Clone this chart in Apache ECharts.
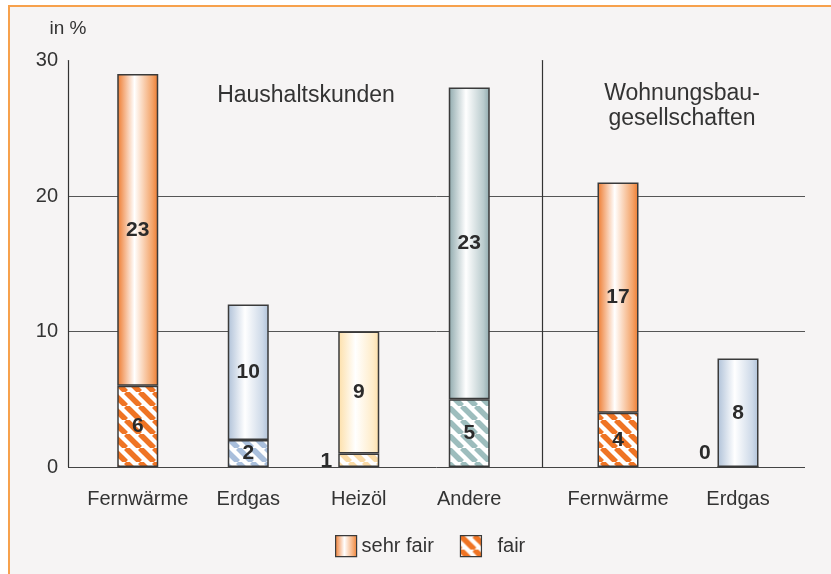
<!DOCTYPE html>
<html>
<head>
<meta charset="utf-8">
<script src="https://cdn.jsdelivr.net/npm/echarts@6/dist/echarts.min.js"></script>
<style>
  body { margin: 0; background: #fff; }
  #frame { position: absolute; left: 8px; top: 5px; width: 823px; height: 569px;
           background: #f6f4f4; border-top: 2px solid #f7a14c; border-left: 2px solid #f7a14c; box-sizing: border-box; }
  #chart { position: absolute; left: 0; top: 0; width: 831px; height: 574px; }
</style>
</head>
<body>
<div id="frame"></div>
<div id="chart"></div>
<script>
// Daten
const categoriesHaushalt = ['Fernwärme', 'Erdgas', 'Heizöl', 'Andere'];
const fairHaushalt = [6, 2, 1, 5];
const sehrFairHaushalt = [23, 10, 9, 23];

const categoriesWohnung = ['Fernwärme', 'Erdgas'];
const fairWohnung = [4, 0];
const sehrFairWohnung = [17, 8];

const yTicks = [0, 10, 20, 30];

// Farben je Energieträger
const colors = {
  'Fernwärme': { base: '#ee7a2e', light: '#f4a56b', stripe: '#ef7424' },
  'Erdgas':    { base: '#afc1d8', light: '#cdd9e8', stripe: '#a9bfdc' },
  'Heizöl':    { base: '#fddfa8', light: '#feecc9', stripe: '#fbdba6' },
  'Andere':    { base: '#8fa9ad', light: '#b9cbcd', stripe: '#9dbdbd' }
};

function gradient(c) {
  return new echarts.graphic.LinearGradient(0, 0, 1, 0, [
    { offset: 0, color: c.base },
    { offset: 0.42, color: '#ffffff' },
    { offset: 0.85, color: c.light },
    { offset: 1, color: c.base }
  ]);
}

function hatch(c) {
  const s = 14;
  const cv = document.createElement('canvas');
  cv.width = s; cv.height = s;
  const ctx = cv.getContext('2d');
  ctx.fillStyle = '#ffffff';
  ctx.fillRect(0, 0, s, s);
  ctx.strokeStyle = c.stripe;
  ctx.lineWidth = 5.5;
  [-s, 0, s].forEach(x0 => {
    ctx.beginPath();
    ctx.moveTo(x0, 0);
    ctx.lineTo(x0 + s, s);
    ctx.stroke();
  });
  return { image: cv, repeat: 'repeat' };
}

const font = 'Liberation Sans';
const labelStyle = {
  show: true, position: 'inside', color: '#2b2b2b',
  fontSize: 21, fontWeight: 'bold', fontFamily: font
};
const barBorder = { borderColor: '#3a3a3a', borderWidth: 1.5 };

function fairData(cats, vals) {
  return vals.map((v, i) => {
    const d = { value: v, itemStyle: Object.assign({ color: hatch(colors[cats[i]]) }, barBorder) };
    if (v <= 1) {
      d.label = { position: 'left', distance: 6, offset: v === 0 ? [0, -14] : [0, 1] };
    }
    return d;
  });
}
function sehrFairData(cats, vals) {
  return vals.map((v, i) => ({
    value: v, itemStyle: Object.assign({ color: gradient(colors[cats[i]]) }, barBorder)
  }));
}

const chart = echarts.init(document.getElementById('chart'));
const catLabel = { fontSize: 20, color: '#333', margin: 22, fontFamily: font, interval: 0, hideOverlap: false };

chart.setOption({
  animation: false,
  textStyle: { fontFamily: font },
  title: [
    { text: 'Haushaltskunden', left: 301, top: 79, textAlign: 'center',
      textStyle: { fontSize: 23, fontWeight: 'normal', color: '#333', fontFamily: font } },
    { text: 'Wohnungsbau-\ngesellschaften', left: 677, top: 76, textAlign: 'center',
      textStyle: { fontSize: 23, fontWeight: 'normal', color: '#333', fontFamily: font, lineHeight: 25 } }
  ],
  legend: {
    data: ['sehr fair', { name: 'fair', textStyle: { padding: [0, 0, 0, 11] } }],
    left: 330, top: 530,
    itemWidth: 21, itemHeight: 21, itemGap: 26,
    icon: 'rect',
    textStyle: { fontSize: 20, color: '#333', fontFamily: font },
    itemStyle: { borderColor: '#3a3a3a', borderWidth: 1.2 }
  },
  grid: [
    { left: 68, right: 26, top: 60.5, bottom: 107 },
    { left: 82.5, width: 442, top: 60.5, bottom: 107 },
    { left: 558, width: 240, top: 60.5, bottom: 107 }
  ],
  xAxis: [
    { gridIndex: 0, type: 'value', show: false },
    { gridIndex: 1, type: 'category', data: categoriesHaushalt,
      axisLine: { show: false }, axisTick: { show: false }, axisLabel: catLabel },
    { gridIndex: 2, type: 'category', data: categoriesWohnung,
      axisLine: { show: false }, axisTick: { show: false }, axisLabel: catLabel }
  ],
  yAxis: [
    { gridIndex: 0, type: 'value', min: yTicks[0], max: yTicks[yTicks.length - 1], interval: 10,
      name: 'in %', nameGap: 22,
      nameTextStyle: { fontSize: 19, color: '#333', fontFamily: font, align: 'center' },
      axisLine: { show: true, lineStyle: { color: '#333', width: 1.2 } },
      axisTick: { show: false },
      axisLabel: { fontSize: 20, color: '#333', margin: 10, fontFamily: font },
      splitLine: { show: true, lineStyle: { color: ['#444', '#555', '#555', 'rgba(0,0,0,0)'], width: 1 } } },
    { gridIndex: 1, type: 'value', min: 0, max: 30, show: false },
    { gridIndex: 2, type: 'value', min: 0, max: 30, offset: 16,
      axisLine: { show: true, lineStyle: { color: '#333', width: 1.2 } },
      axisTick: { show: false }, axisLabel: { show: false }, splitLine: { show: false } }
  ],
  series: [
    { name: 'fair', type: 'bar', xAxisIndex: 1, yAxisIndex: 1, stack: 'h', barWidth: 41,
      itemStyle: Object.assign({ color: hatch(colors['Fernwärme']) }, barBorder),
      label: labelStyle, data: fairData(categoriesHaushalt, fairHaushalt) },
    { name: 'sehr fair', type: 'bar', xAxisIndex: 1, yAxisIndex: 1, stack: 'h', barWidth: 41,
      itemStyle: Object.assign({ color: gradient(colors['Fernwärme']) }, barBorder),
      label: labelStyle, data: sehrFairData(categoriesHaushalt, sehrFairHaushalt) },
    { name: 'fair', type: 'bar', xAxisIndex: 2, yAxisIndex: 2, stack: 'w', barWidth: 41,
      itemStyle: Object.assign({ color: hatch(colors['Fernwärme']) }, barBorder),
      label: labelStyle, data: fairData(categoriesWohnung, fairWohnung) },
    { name: 'sehr fair', type: 'bar', xAxisIndex: 2, yAxisIndex: 2, stack: 'w', barWidth: 41,
      itemStyle: Object.assign({ color: gradient(colors['Fernwärme']) }, barBorder),
      label: labelStyle, data: sehrFairData(categoriesWohnung, sehrFairWohnung) }
  ]
});
</script>
</body>
</html>
